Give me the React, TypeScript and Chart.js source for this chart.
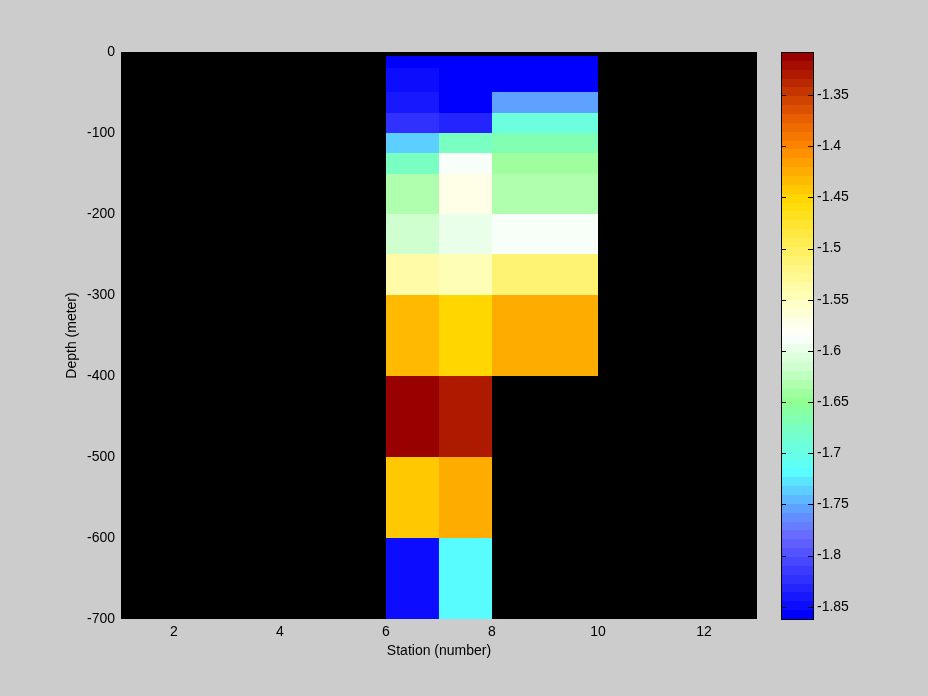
import React, { useEffect, useRef } from "react";
import { Chart, registerables } from "chart.js";

Chart.register(...registerables);

// ---- data ----
const stationEdges = [6, 7, 8, 10];
const depthEdges = [-5, -20, -50, -75, -100, -125, -150, -200, -250, -300, -400, -500, -600, -700];
// one value per depth bin (null = no data)
const station6 = [-1.862, -1.845, -1.84, -1.823, -1.735, -1.675, -1.635, -1.615, -1.535, -1.43, -1.31, -1.44, -1.85];
const station7 = [-1.862, -1.862, -1.862, -1.835, -1.675, -1.59, -1.57, -1.6, -1.55, -1.45, -1.33, -1.426, -1.72];
const station8 = [-1.862, -1.862, -1.758, -1.695, -1.665, -1.645, -1.63, -1.59, -1.51, -1.427, null, null, null];
const columns = [station6, station7, station8];

const xTicks = [2, 4, 6, 8, 10, 12];
const yTicks = [0, -100, -200, -300, -400, -500, -600, -700];
const cbTicks = [-1.85, -1.8, -1.75, -1.7, -1.65, -1.6, -1.55, -1.5, -1.45, -1.4, -1.35];
const CB_MIN = -1.862;
const CB_MAX = -1.308;
const N_COLORS = 64;

const colorStops: [number, string][] = [
  [-1.862, "#0000ff"],
  [-1.785, "#6868ff"],
  [-1.76, "#6098ff"],
  [-1.72, "#58ffff"],
  [-1.68, "#78ffc8"],
  [-1.65, "#90ff90"],
  [-1.62, "#c8ffc8"],
  [-1.585, "#ffffff"],
  [-1.55, "#ffffc0"],
  [-1.5, "#fff060"],
  [-1.45, "#ffd800"],
  [-1.42, "#ffa800"],
  [-1.4, "#ff8800"],
  [-1.37, "#e86000"],
  [-1.34, "#c03000"],
  [-1.308, "#990000"],
];

function hexToRgb(h: string): number[] {
  return [parseInt(h.slice(1, 3), 16), parseInt(h.slice(3, 5), 16), parseInt(h.slice(5, 7), 16)];
}

function cmapAt(v: number): string {
  if (v <= colorStops[0][0]) return colorStops[0][1];
  for (let i = 1; i < colorStops.length; i++) {
    const [v1, c1] = colorStops[i];
    const [v0, c0] = colorStops[i - 1];
    if (v <= v1) {
      const f = (v - v0) / (v1 - v0);
      const a = hexToRgb(c0);
      const b = hexToRgb(c1);
      const r = a.map((x, k) => Math.round(x + (b[k] - x) * f));
      return `rgb(${r[0]},${r[1]},${r[2]})`;
    }
  }
  return colorStops[colorStops.length - 1][1];
}

const bandColors: string[] = Array.from({ length: N_COLORS }, (_, i) =>
  cmapAt(CB_MIN + (i / (N_COLORS - 1)) * (CB_MAX - CB_MIN))
);

function colorFor(v: number): string {
  let idx = Math.floor(((v - CB_MIN) / (CB_MAX - CB_MIN)) * N_COLORS);
  idx = Math.max(0, Math.min(N_COLORS - 1, idx));
  return bandColors[idx];
}

const FONT = { family: "'Liberation Sans', Arial, sans-serif", size: 14 };

const bgPlugin = {
  id: "bg",
  beforeDraw(chart: any) {
    const { ctx, chartArea } = chart;
    ctx.save();
    ctx.fillStyle = "#cccccc";
    ctx.fillRect(0, 0, chart.width, chart.height);
    ctx.fillStyle = "#000000";
    ctx.fillRect(chartArea.left, chartArea.top, chartArea.right - chartArea.left, chartArea.bottom - chartArea.top);
    ctx.restore();
  },
};

const heatPlugin = {
  id: "heat",
  beforeDatasetsDraw(chart: any) {
    const { ctx, chartArea } = chart;
    const xs = chart.scales.x;
    const ys = chart.scales.y;
    ctx.save();
    ctx.beginPath();
    ctx.rect(chartArea.left, chartArea.top, chartArea.right - chartArea.left, chartArea.bottom - chartArea.top);
    ctx.clip();
    columns.forEach((col, c) => {
      const x0 = Math.round(xs.getPixelForValue(stationEdges[c]));
      const x1 = Math.round(xs.getPixelForValue(stationEdges[c + 1]));
      col.forEach((v, r) => {
        if (v === null) return;
        const y0 = Math.round(ys.getPixelForValue(depthEdges[r]));
        const y1 = Math.round(ys.getPixelForValue(depthEdges[r + 1]));
        ctx.fillStyle = colorFor(v);
        ctx.fillRect(x0, y0, x1 - x0, y1 - y0);
      });
    });
    ctx.restore();
  },
  afterDraw(chart: any) {
    // colorbar
    const { ctx } = chart;
    const cb = chart.scales.cb;
    const bx0 = cb.left + 24;
    const bx1 = cb.left + 57;
    const step = (CB_MAX - CB_MIN) / N_COLORS;
    ctx.save();
    for (let i = 0; i < N_COLORS; i++) {
      const yTop = Math.round(cb.getPixelForValue(CB_MIN + (i + 1) * step));
      const yBot = Math.round(cb.getPixelForValue(CB_MIN + i * step));
      ctx.fillStyle = bandColors[i];
      ctx.fillRect(bx0, yTop, bx1 - bx0, yBot - yTop);
    }
    const top = Math.round(cb.getPixelForValue(CB_MAX));
    const bot = Math.round(cb.getPixelForValue(CB_MIN));
    ctx.strokeStyle = "#000";
    ctx.lineWidth = 1;
    ctx.strokeRect(bx0 + 0.5, top + 0.5, bx1 - bx0 - 1, bot - top);
    ctx.beginPath();
    cbTicks.forEach((t) => {
      const y = Math.round(cb.getPixelForValue(t)) + 0.5;
      ctx.moveTo(bx0, y);
      ctx.lineTo(bx0 + 5, y);
      ctx.moveTo(bx1 - 6, y);
      ctx.lineTo(bx1, y);
    });
    ctx.stroke();
    ctx.restore();
  },
};

export default function App() {
  const ref = useRef<HTMLCanvasElement | null>(null);

  useEffect(() => {
    document.body.style.margin = "0";
    document.body.style.background = "#cccccc";
    if (!ref.current) return;
    Chart.defaults.color = "#000";
    const chart = new Chart(ref.current, {
      type: "scatter",
      data: { datasets: [] },
      plugins: [bgPlugin, heatPlugin],
      options: {
        animation: false,
        responsive: false,
        devicePixelRatio: 1,
        layout: { padding: { top: 52, left: 0, right: 0, bottom: 0 } },
        plugins: { legend: { display: false }, tooltip: { enabled: false } },
        scales: {
          x: {
            type: "linear",
            position: "bottom",
            min: 1,
            max: 13,
            grid: { display: false, drawTicks: false },
            border: { display: false },
            afterBuildTicks: (s: any) => {
              s.ticks = xTicks.map((v) => ({ value: v }));
            },
            afterFit: (s: any) => {
              s.height = 77;
              s.paddingLeft = 0;
              s.paddingRight = 0;
            },
            ticks: { font: FONT, padding: 5, maxRotation: 0, color: "#000", callback: (v: any) => String(v) },
            title: { display: true, text: "Station (number)", font: FONT, color: "#000", padding: { top: 0, bottom: 36 } },
          },
          y: {
            type: "linear",
            position: "left",
            min: -700,
            max: 0,
            grid: { display: false, drawTicks: false },
            border: { display: false },
            afterBuildTicks: (s: any) => {
              s.ticks = yTicks.map((v) => ({ value: v }));
            },
            afterFit: (s: any) => {
              s.width = 121;
              s.paddingTop = 0;
              s.paddingBottom = 0;
            },
            ticks: { font: FONT, padding: 6, color: "#000", callback: (v: any) => String(v) },
            title: { display: true, text: "Depth (meter)", font: FONT, color: "#000", padding: { top: 64, bottom: 0 } },
          },
          cb: {
            type: "linear",
            position: "right",
            min: CB_MIN,
            max: CB_MAX,
            grid: { display: false, drawTicks: false },
            border: { display: false },
            afterBuildTicks: (s: any) => {
              s.ticks = cbTicks.map((v) => ({ value: v }));
            },
            afterFit: (s: any) => {
              s.width = 171;
              s.paddingTop = 0;
              s.paddingBottom = 0;
            },
            ticks: { font: FONT, padding: 60, color: "#000", callback: (v: any) => String(v) },
          },
        },
      } as any,
    });
    return () => chart.destroy();
  }, []);

  return (
    <div style={{ width: 928, height: 696 }}>
      <canvas ref={ref} width={928} height={696} style={{ display: "block", width: 928, height: 696 }} />
    </div>
  );
}
